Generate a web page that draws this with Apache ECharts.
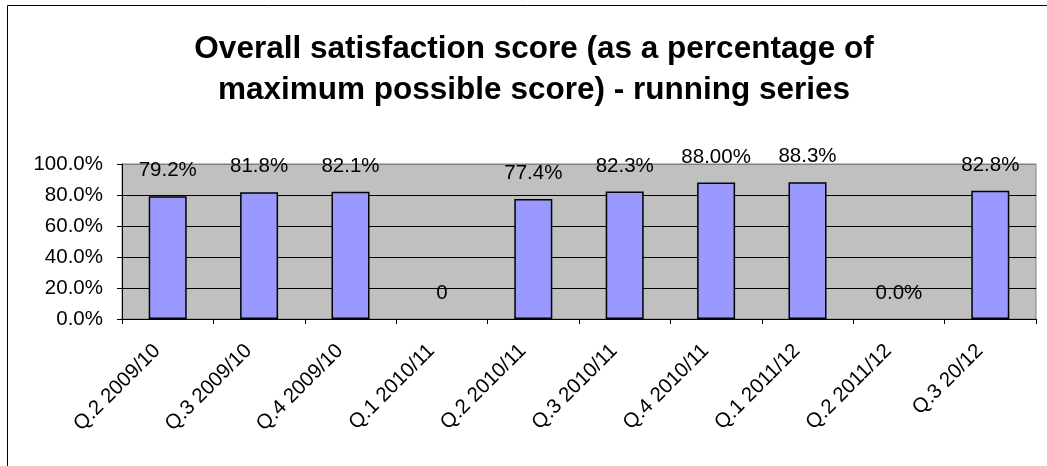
<!DOCTYPE html>
<html>
<head>
<meta charset="utf-8">
<script src="https://cdn.jsdelivr.net/npm/echarts@6/dist/echarts.min.js"></script>
<style>
  html, body { margin: 0; padding: 0; background: #fff; }
  #chart { width: 1047px; height: 466px; }
</style>
</head>
<body>
<div id="chart"></div>
<script>
// 季度
const quarters = [
  'Q.2 2009/10', 'Q.3 2009/10', 'Q.4 2009/10', 'Q.1 2010/11', 'Q.2 2010/11',
  'Q.3 2010/11', 'Q.4 2010/11', 'Q.1 2011/12', 'Q.2 2011/12', 'Q.3 20/12'
]
// 满意度 (%)
const scores = [79.2, 81.8, 82.1, 0, 77.4, 82.3, 88.0, 88.3, 0, 82.8]
// 数据标签, 原图里格式不统一
const scoreLabels = ['79.2%', '81.8%', '82.1%', '0', '77.4%', '82.3%', '88.00%', '88.3%', '0.0%', '82.8%']

const chart = echarts.init(document.getElementById('chart'))

// 值为0的柱子不画边框
const barData = scores.map((v) => ({
  value: v,
  itemStyle: v === 0 ? { borderWidth: 0 } : {}
}))

const option = {
  animation: false,
  textStyle: { fontFamily: 'Liberation Sans, Arial, sans-serif' },
  title: {
    text: 'Overall satisfaction score (as a percentage of\nmaximum possible score) - running series',
    left: 529,
    top: 24,
    textAlign: 'center',
    textStyle: {
      fontSize: 31.5,
      fontWeight: 'bold',
      color: '#000',
      lineHeight: 41
    }
  },
  // 外框
  graphic: [
    {
      type: 'rect',
      shape: { x: 7.5, y: 5.5, width: 1100, height: 500 },
      style: { fill: 'none', stroke: '#000', lineWidth: 1 },
      silent: true
    }
  ],
  grid: {
    left: 122,
    right: 11,
    top: 164,
    bottom: 147,
    show: true,
    backgroundColor: '#c0c0c0',
    borderColor: '#808080',
    borderWidth: 1
  },
  xAxis: {
    type: 'category',
    data: quarters,
    axisLine: { lineStyle: { color: '#000', width: 1 } },
    axisTick: { show: true, length: 5, lineStyle: { color: '#000' } },
    axisLabel: {
      rotate: 45,
      interval: 0,
      margin: 18,
      // 右侧留白, 让斜标签往左下偏一点
      padding: [0, 15, 0, 0],
      fontSize: 20.5,
      color: '#000'
    }
  },
  yAxis: {
    type: 'value',
    min: 0,
    max: 100,
    interval: 20,
    axisLine: { show: true, lineStyle: { color: '#000' } },
    axisTick: { show: true, length: 5, lineStyle: { color: '#000' } },
    axisLabel: {
      margin: 19,
      fontSize: 20.5,
      color: '#000',
      formatter: (v) => v.toFixed(1) + '%'
    },
    splitLine: {
      show: true,
      lineStyle: { color: ['#000', '#000', '#000', '#000', '#000', '#808080'], width: 1 }
    }
  },
  series: [
    {
      type: 'bar',
      data: barData,
      barWidth: 38,
      itemStyle: {
        color: '#9999ff',
        borderColor: '#000',
        borderWidth: 1.5
      },
      label: {
        show: true,
        position: 'top',
        distance: 15,
        fontSize: 20.5,
        color: '#000',
        formatter: (p) => scoreLabels[p.dataIndex]
      }
    }
  ]
}

chart.setOption(option)
</script>
</body>
</html>
